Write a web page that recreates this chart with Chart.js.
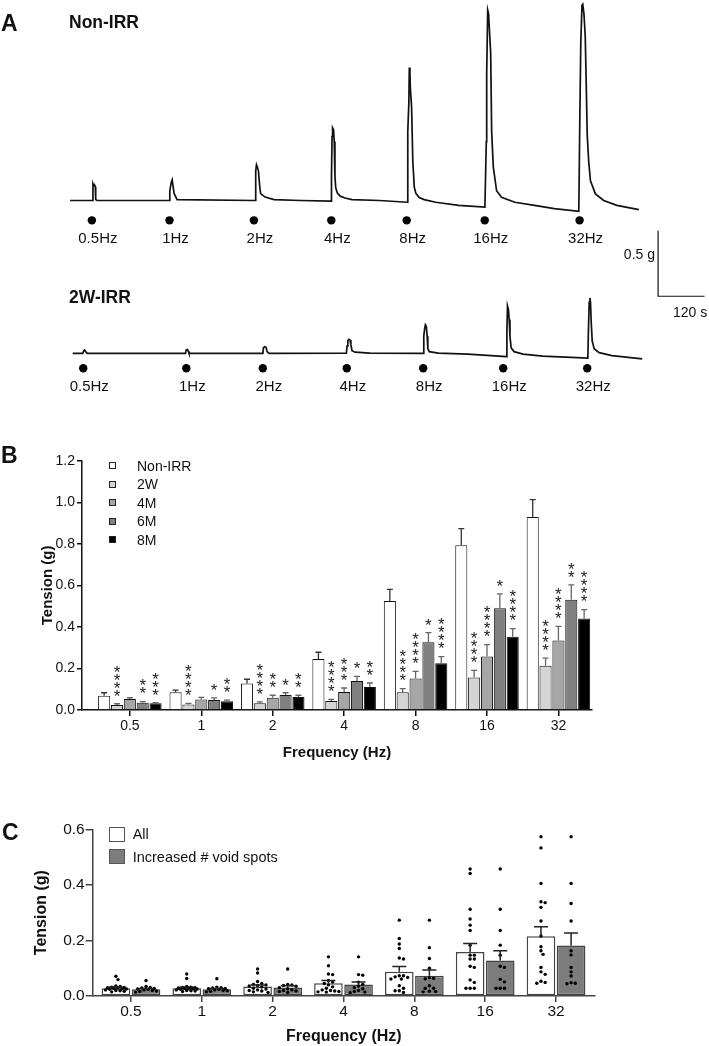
<!DOCTYPE html>
<html><head><meta charset="utf-8">
<script src="https://cdn.jsdelivr.net/npm/chart.js"></script>
<style>
html,body{margin:0;padding:0;background:#fff;}
#wrap{position:relative;width:709px;height:1046px;overflow:hidden;font-family:"Liberation Sans",Arial,sans-serif;color:#111;}
canvas{position:absolute;left:0;}
.t{position:absolute;white-space:nowrap;line-height:1;}
.bx{position:absolute;box-sizing:border-box;}
</style></head><body><div id="wrap">
<canvas id="cA1" width="709" height="260" style="top:0px"></canvas>
<canvas id="cA2" width="709" height="180" style="top:220px"></canvas>
<canvas id="cB" width="709" height="340" style="top:430px"></canvas>
<canvas id="cC" width="709" height="246" style="top:800px"></canvas>
<div class="t" style="left:1px;top:11.8px;font-size:23px;font-weight:bold">A</div>
<div class="t" style="left:69px;top:13.8px;font-size:17.5px;font-weight:bold">Non-IRR</div>
<div class="t" style="left:69px;top:289.3px;font-size:17.5px;font-weight:bold">2W-IRR</div>
<div class="t" style="right:54px;top:247px;font-size:14px">0.5 g</div>
<div class="t" style="left:673px;top:304.7px;font-size:14px">120 s</div>
<div class="t" style="left:1px;top:444px;font-size:23px;font-weight:bold">B</div>
<div class="t" style="left:2px;top:821px;font-size:23px;font-weight:bold">C</div>
<div id="legB"></div><div id="legC"></div>
</div>
<script>
// ---------- Panel A: representative traces (time in s, tension in g above initial baseline)
const stimLabels = ['0.5Hz','1Hz','2Hz','4Hz','8Hz','16Hz','32Hz'];
const nonIrrTime = [0,58,59,60.8,62.8,65.1,66.1,69.7, 256.8,257.6,261.2,263.7,266.3,268.8,276.5, 477.7,479.5,481.5,483.8,486.6,489.7,492.2,503.7,526.7,595.6, 674.2,675.3,676.8,678.1,680.6,682.4,684.2,686.2,690.1,697.7,710.5,728.4,799.9, 871.3,872.4,875.2,876.4,878.0,879.0,882.3,885.4,889.2,893.6,902.0,914.7,944.6,1004.1, 1071.7,1075.3,1076.3,1078.9,1081.2,1082.5,1086.6,1089.1,1093.4,1101.9,1114.6,1148.9,1199.9,1251.0, 1314.3,1316.8,1319.4,1322.5,1324.5,1327.6,1330.9,1333.4,1336.0,1339.8,1344.4,1357.2,1378.6,1412.6,1469.5];
const nonIrrTension = [0,0,0.126,0.111,0.119,0.104,0.007,0, 0,0.074,0.134,0.156,0.104,0.052,0.007, 0,0.223,0.271,0.253,0.223,0.111,0.052,0.026,0.007,0, -0.004,0.193,0.483,0.550,0.535,0.446,0.186,0.097,0.059,0.033,0.019,0.007,0, -0.013,0.520,0.743,1.007,0.966,0.854,0.706,0.297,0.100,0.052,0.022,0.007,-0.013,-0.037, -0.050,0.446,0.966,1.441,1.412,1.337,1.114,0.520,0.253,0.074,0.025,-0.013,-0.037,-0.062, -0.082,0.594,1.189,1.478,1.486,1.412,1.241,0.892,0.498,0.297,0.149,0.050,0,-0.037,-0.069];
const nonIrrStim = [56.2,256.8,474.9,674.8,869.6,1071.2,1316.3];
const w2Time = [0,26.0,28.6,30.6,33.7,37.5, 291.5,293.3,296.7,298.7,300.5, 491.5,492.7,495.8,499.6,502.2,507.3, 707.1,709.0,711.0,713.6,716.6,718.7,721.7,729.4,767.7, 906.1,907.1,909.4,911.2,913.7,915.8,917.6,921.4,944.4,1021.0, 1120.7,1121.8,1123.3,1125.9,1127.7,1129.7,1132.8,1140.4,1163.4,1214.5, 1330.9,1332.4,1334.5,1336.3,1337.8,1339.6,1342.2,1347.3,1360.1,1393.3,1471.5];
const w2Tension = [0,0,0.020,0.025,0.013,0, 0,0.027,0.030,0.016,0, 0,0.042,0.050,0.046,0.013,0, 0.001,0.057,0.098,0.107,0.102,0.065,0.020,0.009,0.001, 0,0.131,0.191,0.218,0.206,0.131,0.035,0.013,0.001,-0.006, -0.025,0.169,0.362,0.332,0.258,0.131,0.042,0.013,-0.006,-0.021, -0.037,0.169,0.392,0.423,0.392,0.243,0.094,0.035,0.005,-0.017,-0.042];
const w2Stim = [27.3,293.6,491.2,708.2,905.6,1112.3,1329.3];
const scaleBarSeconds = 120, scaleBarGrams = 0.5;

// ---------- Panel B
const freqLabels = ['0.5','1','2','4','8','16','32'];
const seriesNames = ['Non-IRR','2W','4M','6M','8M'];
const nonIrrMean = [0.069,0.085,0.128,0.246,0.525,0.793,0.929];
const nonIrrSem  = [0.014,0.011,0.020,0.032,0.056,0.080,0.084];
const w2Mean = [0.024,0.027,0.032,0.043,0.085,0.157,0.213];
const w2Sem  = [0.006,0.005,0.007,0.008,0.018,0.034,0.037];
const m4Mean = [0.053,0.051,0.059,0.087,0.152,0.257,0.335];
const m4Sem  = [0.006,0.010,0.012,0.019,0.034,0.058,0.068];
const m6Mean = [0.035,0.048,0.072,0.140,0.326,0.490,0.531];
const m6Sem  = [0.005,0.010,0.011,0.022,0.046,0.069,0.071];
const m8Mean = [0.032,0.042,0.063,0.111,0.225,0.353,0.441];
const m8Sem  = [0.003,0.006,0.008,0.019,0.032,0.039,0.042];
const nonIrrStars = [0,0,0,0,0,0,0];
const w2Stars = [4,4,4,4,4,4,4];
const m4Stars = [0,0,2,3,4,4,4];
const m6Stars = [2,1,1,1,1,1,2];
const m8Stars = [3,2,2,2,4,4,4];

// ---------- Panel C
const cNames = ['All','Increased # void spots'];
const allMean = [0.028,0.028,0.034,0.046,0.087,0.158,0.215];
const allSem  = [0.004,0.004,0.006,0.010,0.019,0.031,0.034];
const incMean = [0.024,0.024,0.031,0.041,0.073,0.128,0.182];
const incSem  = [0.003,0.003,0.006,0.009,0.021,0.035,0.045];
const allPoints = [
 [0.071,0.059,0.036,0.034,0.032,0.031,0.030,0.029,0.028,0.026,0.025,0.024,0.022,0.020,0.019,0.017,0.015],
 [0.079,0.063,0.034,0.032,0.031,0.030,0.029,0.028,0.027,0.026,0.025,0.024,0.022,0.020,0.019,0.018,0.016],
 [0.097,0.083,0.052,0.045,0.042,0.040,0.038,0.036,0.032,0.028,0.025,0.022,0.020,0.018,0.015,0.013],
 [0.141,0.109,0.079,0.077,0.056,0.050,0.045,0.040,0.033,0.028,0.022,0.020,0.018,0.016,0.015,0.014],
 [0.273,0.207,0.187,0.171,0.137,0.133,0.073,0.073,0.069,0.067,0.061,0.061,0.037,0.028,0.019,0.019,0.013],
 [0.457,0.441,0.312,0.277,0.255,0.236,0.183,0.147,0.147,0.133,0.133,0.107,0.103,0.058,0.049,0.028,0.028,0.028],
 [0.573,0.533,0.405,0.339,0.336,0.319,0.270,0.216,0.177,0.163,0.150,0.103,0.087,0.078,0.053,0.049,0.046]
];
const incPoints = [
 [0.056,0.034,0.031,0.029,0.027,0.025,0.024,0.022,0.020,0.018,0.016,0.014],
 [0.062,0.032,0.030,0.029,0.027,0.026,0.024,0.022,0.020,0.019,0.017,0.015],
 [0.097,0.042,0.040,0.038,0.035,0.030,0.026,0.022,0.020,0.018,0.016,0.013],
 [0.141,0.077,0.075,0.050,0.042,0.036,0.030,0.026,0.020,0.016,0.014,0.012],
 [0.273,0.174,0.135,0.100,0.066,0.064,0.062,0.037,0.028,0.028,0.017,0.016,0.015],
 [0.457,0.312,0.236,0.183,0.147,0.107,0.103,0.060,0.051,0.028,0.028,0.028],
 [0.573,0.405,0.333,0.270,0.163,0.148,0.103,0.087,0.072,0.048,0.046,0.044]
];

// ================= drawing =================
const FONT = '"Liberation Sans", Arial, sans-serif';
Chart.defaults.font.family = FONT;
Chart.defaults.color = '#111';
const noPlug = {legend:{display:false}, tooltip:{enabled:false}};

function traceChart(id, time, tension, stim, markerLevel, xr, yr, axisH, extra) {
  const ds = [
    {type:'line', data: time.map((t,i)=>({x:t, y:tension[i]})), borderColor:'#111', borderWidth:1.7, pointRadius:0, tension:0, fill:false, clip:6},
    {type:'scatter', data: stim.map(t=>({x:t, y:markerLevel})), pointRadius:4.2, pointBackgroundColor:'#000', pointBorderWidth:0}
  ].concat(extra||[]);
  return new Chart(document.getElementById(id), {
    type:'line',
    data:{datasets:ds},
    options:{
      responsive:false, animation:false, layout:{padding:0}, plugins:noPlug,
      scales:{
        x:{type:'linear', min:xr[0], max:xr[1],
           afterBuildTicks:s=>{s.ticks = stim.map(v=>({value:v}));},
           ticks:{autoSkip:false, maxRotation:0, callback:(v,i)=>stimLabels[i], padding:2, labelOffset:6, font:{size:15}, color:'#111'},
           grid:{display:false, drawTicks:false}, border:{display:false},
           afterFit:s=>{s.height = axisH;}},
        y:{display:false, min:yr[0], max:yr[1]}
      }
    }
  });
}
traceChart('cA1', nonIrrTime, nonIrrTension, nonIrrStim, -0.15, [-170.3,1639.8], [-0.208,1.486], 32);
const barT = 1512.4, barG = 0.436;
traceChart('cA2', w2Time, w2Tension, w2Stim, -0.114, [-176.9,1633.1], [-0.173,0.986], 24, [
  {type:'line', data:[{x:barT,y:barG+scaleBarGrams},{x:barT,y:barG},{x:barT+scaleBarSeconds,y:barG}], borderColor:'#111', borderWidth:1.2, pointRadius:0, tension:0, clip:false}
]);

// ---- Panel B
const bColors = ['#ffffff','#d4d4d4','#a6a6a6','#808080','#000000'];
const bMeans = [nonIrrMean,w2Mean,m4Mean,m6Mean,m8Mean];
const bSems = [nonIrrSem,w2Sem,m4Sem,m6Sem,m8Sem];
const bStars = [nonIrrStars,w2Stars,m4Stars,m6Stars,m8Stars];
const errB = {
  id:'errB',
  afterDatasetsDraw(chart){
    const ctx = chart.ctx, ys = chart.scales.y;
    bMeans.forEach((mean,di)=>{
      const meta = chart.getDatasetMeta(di);
      meta.data.forEach((el,j)=>{
        const top = ys.getPixelForValue(mean[j]+bSems[di][j]);
        ctx.save();
        ctx.strokeStyle = di===0 ? '#333' : '#666';
        ctx.lineWidth = 1.3;
        ctx.beginPath();
        ctx.moveTo(el.x, el.y); ctx.lineTo(el.x, top);
        ctx.moveTo(el.x-3, top); ctx.lineTo(el.x+3, top);
        ctx.stroke();
        ctx.fillStyle = '#222'; ctx.font = '17px '+FONT; ctx.textAlign='center'; ctx.textBaseline='alphabetic';
        for (let k=0;k<bStars[di][j];k++){ const cy = top - 12 - k*8; ctx.fillText('*', el.x, cy + 9.8); }
        ctx.restore();
      });
    });
  }
};
new Chart(document.getElementById('cB'), {
  type:'bar',
  data:{datasets: bMeans.map((m,di)=>({label:seriesNames[di], data:m.map((v,i)=>({x:i,y:v})), backgroundColor:bColors[di], borderColor:'#111', borderWidth:1, categoryPercentage:0.9, barPercentage:0.94}))},
  options:{
    responsive:false, animation:false, plugins:noPlug,
    layout:{padding:{top:30.7,left:0,right:117,bottom:0}},
    scales:{
      x:{type:'linear', min:-0.67, max:6.47, offset:false,
         afterBuildTicks:s=>{s.ticks = freqLabels.map((_,i)=>({value:i}));},
         ticks:{autoSkip:false, maxRotation:0, callback:(v,i)=>freqLabels[i], padding:2, font:{size:14}, color:'#111'},
         grid:{drawOnChartArea:false, tickLength:6, color:'#111', lineWidth:1.5, offset:false},
         border:{color:'#111', width:1.5},
         title:{display:true, text:'Frequency (Hz)', font:{size:15, weight:'bold'}, color:'#111', padding:{top:0,bottom:8.6}},
         afterFit:s=>{s.height=60;}},
      y:{min:0, max:1.2,
         ticks:{stepSize:0.2, callback:v=>v.toFixed(1), padding:2, font:{size:14}, color:'#111'},
         grid:{drawOnChartArea:false, tickLength:5, color:'#111', lineWidth:1.5},
         border:{color:'#111', width:1.5},
         title:{display:true, text:'Tension (g)', font:{size:15, weight:'bold'}, color:'#111', padding:{top:38.5,bottom:0}},
         afterFit:s=>{s.width=82;}}
    }
  },
  plugins:[errB]
});

// ---- Panel C
// simple beeswarm: spread overlapping points sideways, within the bar
function swarm(vals, center, d, pxX, pxY, maxHalf){
  const order = vals.map((v,i)=>i).sort((a,b)=>vals[b]-vals[a]);
  const placed=[], res=[];
  const step = d*0.55, nMax = Math.floor(maxHalf/step);
  order.forEach(i=>{
    const py = vals[i]*pxY; let chosen=null, best=-1, bestOff=0;
    for (let k=0;k<=2*nMax;k++){
      const off = (k===0?0:(k%2?1:-1)*Math.ceil(k/2))*step;
      const md = placed.reduce((m,p)=>Math.min(m,Math.hypot(p.x-off,p.y-py)), 1e9);
      if (md>=d){chosen=off;break;}
      if (md>best){best=md;bestOff=off;}
    }
    if (chosen===null) chosen=bestOff;
    placed.push({x:chosen,y:py});
    res.push({x:center+chosen/pxX, y:vals[i]});
  });
  return res;
}
const half = 0.85/4;
const allDots = [].concat(...allPoints.map((g,i)=>swarm(g, i-half, 3.8, 70.8, 278, 12)));
const incDots = [].concat(...incPoints.map((g,i)=>swarm(g, i+half, 3.8, 70.8, 278, 12)));
const cMeans=[allMean,incMean], cSems=[allSem,incSem];
const errC = {
  id:'errC',
  afterDatasetsDraw(chart){
    const ctx=chart.ctx, ys=chart.scales.y;
    cMeans.forEach((mean,di)=>{
      chart.getDatasetMeta(di).data.forEach((el,j)=>{
        const top = ys.getPixelForValue(mean[j]+cSems[di][j]);
        ctx.save(); ctx.strokeStyle='#222'; ctx.lineWidth=1.5; ctx.beginPath();
        ctx.moveTo(el.x, el.y); ctx.lineTo(el.x, top);
        ctx.moveTo(el.x-7, top); ctx.lineTo(el.x+7, top);
        ctx.stroke(); ctx.restore();
      });
    });
  }
};
new Chart(document.getElementById('cC'), {
  type:'bar',
  data:{datasets:[
    {label:cNames[0], order:2, data:allMean.map((v,i)=>({x:i,y:v})), backgroundColor:'#ffffff', borderColor:'#444', borderWidth:1.5, borderSkipped:false, categoryPercentage:0.85, barPercentage:0.95},
    {label:cNames[1], order:2, data:incMean.map((v,i)=>({x:i,y:v})), backgroundColor:'#7c7c7c', borderColor:'#444', borderWidth:1.5, borderSkipped:false, categoryPercentage:0.85, barPercentage:0.95},
    {type:'scatter', order:0, data:allDots, pointRadius:1.7, pointBackgroundColor:'#000', pointBorderWidth:0},
    {type:'scatter', order:0, data:incDots, pointRadius:1.7, pointBackgroundColor:'#000', pointBorderWidth:0}
  ]},
  options:{
    responsive:false, animation:false, plugins:noPlug,
    layout:{padding:{top:29.3,left:0,right:114,bottom:0}},
    scales:{
      x:{type:'linear', min:-0.54, max:6.55, offset:false,
         afterBuildTicks:s=>{s.ticks = freqLabels.map((_,i)=>({value:i}));},
         ticks:{autoSkip:false, maxRotation:0, callback:(v,i)=>freqLabels[i], padding:0.5, font:{size:15.5}, color:'#111'},
         grid:{drawOnChartArea:false, tickLength:6, color:'#444', lineWidth:1.5, offset:false},
         border:{color:'#444', width:1.5},
         title:{display:true, text:'Frequency (Hz)', font:{size:16, weight:'bold'}, color:'#111', padding:{top:0,bottom:0}},
         afterFit:s=>{s.height=50;}},
      y:{min:0, max:0.6,
         ticks:{stepSize:0.2, callback:v=>v.toFixed(1), padding:1, font:{size:15.5}, color:'#111'},
         grid:{drawOnChartArea:false, tickLength:7, color:'#444', lineWidth:1.5},
         border:{color:'#444', width:1.5},
         title:{display:true, text:'Tension (g)', font:{size:16, weight:'bold'}, color:'#111', padding:{top:32,bottom:0}},
         afterFit:s=>{s.width=92.7;}}
    }
  },
  plugins:[errC]
});

// ---- HTML legends
const legB = document.getElementById('legB');
seriesNames.forEach((n,i)=>{
  const cy = 465.7 + i*18.5;
  legB.insertAdjacentHTML('beforeend',
    `<div class="bx" style="left:109px;top:${cy-3.5}px;width:7px;height:7px;background:${bColors[i]};border:1px solid #222"></div>`+
    `<div class="t" style="left:137px;top:${cy-7}px;font-size:14px">${n}</div>`);
});
const legC = document.getElementById('legC');
['#ffffff','#7c7c7c'].forEach((c,i)=>{
  const cy = 834.2 + i*22.6;
  legC.insertAdjacentHTML('beforeend',
    `<div class="bx" style="left:109.3px;top:${cy-7.5}px;width:16px;height:15px;background:${c};border:1.5px solid #555"></div>`+
    `<div class="t" style="left:132.7px;top:${cy-7.1}px;font-size:14.5px">${cNames[i]}</div>`);
});
</script>
</body></html>
